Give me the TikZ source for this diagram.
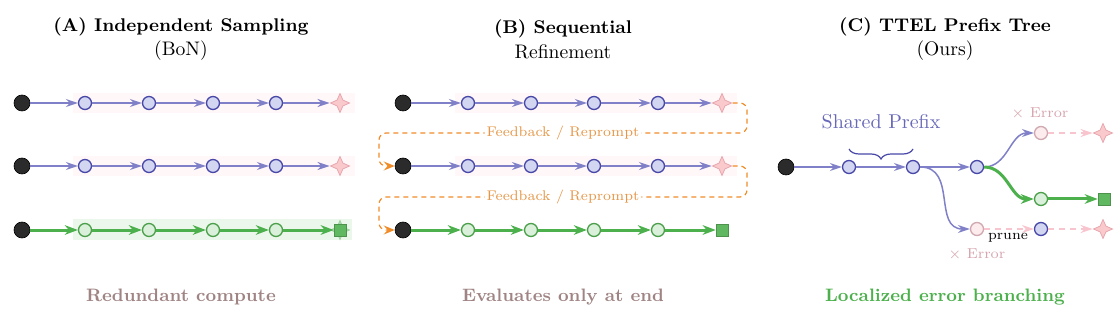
\documentclass[tikz,border=0pt]{standalone}
\usepackage{fontspec}
\usepackage{tikz}
\usetikzlibrary{calc,arrows.meta,decorations.pathreplacing,shapes.geometric}
\definecolor{edgeblue}{RGB}{128,128,200}
\definecolor{nodefill}{RGB}{210,214,240}
\definecolor{nodedraw}{RGB}{72,72,168}
\definecolor{edgegreen}{RGB}{76,176,76}
\definecolor{gnodefill}{RGB}{218,240,218}
\definecolor{gnodedraw}{RGB}{76,160,76}
\definecolor{goalgreen}{RGB}{96,184,96}
\definecolor{dotgray}{RGB}{43,43,43}
\definecolor{starfill}{RGB}{249,201,204}
\definecolor{stardraw}{RGB}{232,168,176}
\definecolor{errfill}{RGB}{252,236,238}
\definecolor{errdraw}{RGB}{208,168,176}
\definecolor{pinkdash}{RGB}{248,196,206}
\definecolor{errtext}{RGB}{214,164,174}
\definecolor{fborange}{RGB}{240,140,40}
\definecolor{fbtext}{RGB}{230,150,70}
\definecolor{mauve}{RGB}{160,132,132}
\definecolor{prefixblue}{RGB}{104,104,184}
\definecolor{bandpink}{RGB}{255,247,248}
\definecolor{bandgreen}{RGB}{236,247,236}

\begin{document}
\begin{tikzpicture}[x=0.5pt,y=-0.5pt,
  startdot/.style={circle,fill=dotgray,draw=black,line width=0.3pt,minimum size=8pt,inner sep=0pt},
  stepnode/.style={circle,fill=nodefill,draw=nodedraw,line width=0.65pt,minimum size=6.5pt,inner sep=0pt},
  greennode/.style={stepnode,fill=gnodefill,draw=gnodedraw},
  errnode/.style={stepnode,fill=errfill,draw=errdraw},
  failstar/.style={star,star points=4,star point ratio=2.3,minimum size=9.5pt,inner sep=0pt,fill=starfill,draw=stardraw,line width=0.4pt},
  goalsq/.style={rectangle,minimum size=6pt,inner sep=0pt,fill=goalgreen,draw=goalgreen!80!black,line width=0.3pt},
  blueedge/.style={draw=edgeblue,line width=0.75pt,-{Stealth[length=6pt,width=4pt,inset=2pt]}},
  greenedge/.style={draw=edgegreen,line width=1.5pt,-{Stealth[length=6.5pt,width=4.8pt,inset=2pt]}},
  pinkedge/.style={draw=pinkdash,line width=0.7pt,dash pattern=on 3pt off 2.5pt,-{Stealth[length=6pt,width=4pt,inset=2pt]}},
  fbline/.style={draw=fborange,line width=0.6pt,dash pattern=on 2.5pt off 2pt,rounded corners=3.5pt,-{Stealth[length=5.5pt,width=4.5pt,inset=2pt]}},
  fblabel/.style={fill=white,inner sep=1pt,text=fbtext,font=\fontsize{7}{8}\selectfont},
  ttl/.style={font=\bfseries\fontsize{9.2}{11}\selectfont},
  subttl/.style={font=\fontsize{9.8}{11}\selectfont},
  verdict/.style={font=\bfseries\fontsize{9}{11}\selectfont},
  errlabel/.style={text=errtext,font=\fontsize{7.2}{8}\selectfont}]
  \useasboundingbox (0,0) rectangle (1117,315);
  % (A) independent sampling
  \node[ttl] (tA) at (181,27) {(A) Independent Sampling};
  \node[subttl] (sA) at (181,51) {(BoN)};
  \fill[bandpink] (73,93) rectangle (355,113); \fill[bandpink] (73,156) rectangle (355,176);
  \fill[bandgreen] (73,219) rectangle (352,240);
  \foreach \r/\yy in {1/103,2/166} {
    \node[startdot] (a\r0) at (22,\yy) {};
    \foreach \i/\xx in {1/85,2/149,3/213,4/276} \node[stepnode] (a\r\i) at (\xx,\yy) {};
    \node[failstar] (a\r5) at (340,\yy) {};
    \foreach \i/\j in {0/1,1/2,2/3,3/4,4/5} \draw[blueedge] (a\r\i) -- (a\r\j);
  }
  \node[startdot] (a30) at (22,230) {};
  \foreach \i/\xx in {1/85,2/149,3/213,4/276} \node[greennode] (a3\i) at (\xx,230) {};
  \node[failstar,fill=goalgreen!50,draw=goalgreen!60] (a3s) at (340,230) {};
  \node[goalsq] (a35) at (340,230) {};
  \foreach \i/\j in {0/1,1/2,2/3,3/4,4/5} \draw[greenedge] (a3\i) -- (a3\j);
  \node[verdict,text=mauve] (vA) at (181,297) {Redundant compute};
  % (B) sequential refinement
  \node[ttl] (tB) at (563,29) {(B) Sequential};
  \node[subttl] (sB) at (563,52) {Refinement};
  \fill[bandpink] (455,93) rectangle (737,113); \fill[bandpink] (455,156) rectangle (737,176);
  \foreach \r/\yy in {1/103,2/166} {
    \node[startdot] (b\r0) at (403,\yy) {};
    \foreach \i/\xx in {1/468,2/531,3/594,4/658} \node[stepnode] (b\r\i) at (\xx,\yy) {};
    \node[failstar] (b\r5) at (722,\yy) {};
    \foreach \i/\j in {0/1,1/2,2/3,3/4,4/5} \draw[blueedge] (b\r\i) -- (b\r\j);
  }
  \node[startdot] (b30) at (403,230) {};
  \foreach \i/\xx in {1/468,2/531,3/594,4/658} \node[greennode] (b3\i) at (\xx,230) {};
  \node[goalsq] (b35) at (722,230) {};
  \foreach \i/\j in {0/1,1/2,2/3,3/4,4/5} \draw[greenedge] (b3\i) -- (b3\j);
  \draw[fbline] (b15.east) -- (747,103) -- (747,133) -- node[fblabel] (fb1) {Feedback / Reprompt} (379,133) -- (379,166) -- (b20.west);
  \draw[fbline] (b25.east) -- (747,166) -- (747,197) -- node[fblabel] (fb2) {Feedback / Reprompt} (379,197) -- (379,230) -- (b30.west);
  \node[verdict,text=mauve] (vB) at (563,297) {Evaluates only at end};
  % (C) prefix tree
  \node[ttl] (tC) at (945,27) {(C) TTEL Prefix Tree};
  \node[subttl] (sC) at (945,51) {(Ours)};
  \node[startdot] (c0) at (786,167) {};
  \node[stepnode] (c1) at (849,167) {};
  \node[stepnode] (c2) at (913,167) {};
  \node[stepnode] (c3) at (977,167) {};
  \node[errnode] (cu) at (1041,133) {};
  \node[failstar] (cus) at (1103,133) {};
  \node[greennode] (cg) at (1041,199) {};
  \node[goalsq] (cgs) at (1104,199) {};
  \node[errnode] (cl) at (977,229) {};
  \node[stepnode] (clb) at (1041,229) {};
  \node[failstar] (cls) at (1103,229) {};
  \draw[blueedge] (c0) -- (c1); \draw[blueedge] (c1) -- (c2); \draw[blueedge] (c2) -- (c3);
  \draw[blueedge] (c2) to[out=0,in=180,looseness=1.2] (cl);
  \draw[blueedge] (c3) to[out=0,in=180] (cu);
  \draw[greenedge] (c3) to[out=0,in=180] (cg);
  \draw[greenedge] (cg) -- (cgs);
  \draw[pinkedge] (cu) -- (cus); \draw[pinkedge] (cl) -- (clb); \draw[pinkedge] (clb) -- (cls);
  \draw[draw=nodedraw,line width=0.6pt,decorate,decoration={brace,amplitude=5pt,mirror}]
    ($(c1)+(0,-18)$) -- ($(c2)+(0,-18)$);
  \node[text=prefixblue,font=\fontsize{10}{12}\selectfont] (shp) at (881,122) {Shared Prefix};
  \node[errlabel] (eu) at (1040,113) {× Error};
  \node[errlabel] (el) at (977,254) {× Error};
  \node[font=\fontsize{7}{8}\selectfont] (pr) at (1008,238) {prune};
  \node[verdict,text=edgegreen] (vC) at (945,297) {Localized error branching};
\end{tikzpicture}
\end{document}
